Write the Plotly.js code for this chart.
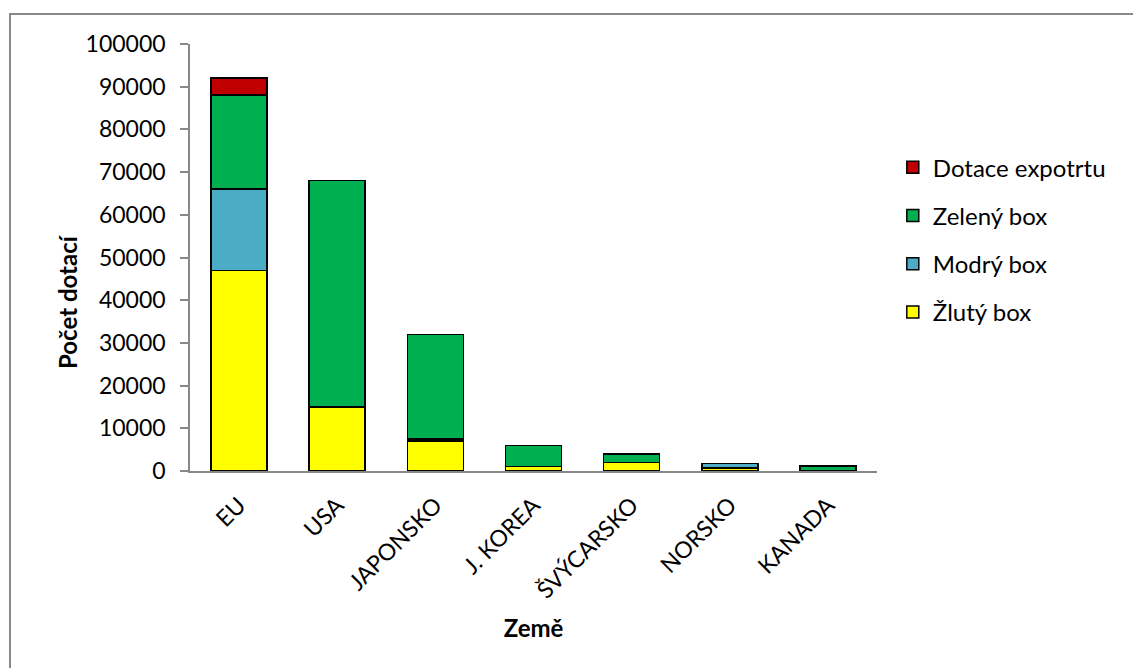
<!DOCTYPE html>
<html>
<head>
<meta charset="utf-8">
<script src="https://cdn.plot.ly/plotly-3.0.1.min.js"></script>
<style>html,body{margin:0;padding:0;background:#fff;}</style>
</head>
<body>
<div id="chart" style="width:1133px;height:668px;"></div>
<script>
var categories = ["EU", "USA", "JAPONSKO", "J. KOREA", "ŠVÝCARSKO", "NORSKO", "KANADA"];
var zlutyBox   = [47000, 15000, 7000, 1000, 2000, 700, 0];
var modryBox   = [19000, 0, 500, 0, 0, 1000, 0];
var zelenyBox  = [22000, 53000, 24500, 5000, 2000, 0, 1200];
var dotaceExp  = [4000, 0, 0, 0, 0, 0, 0];
var yTicks = [0, 10000, 20000, 30000, 40000, 50000, 60000, 70000, 80000, 90000, 100000];

var FONT = "Lato, 'Open Sans', sans-serif";
function tr(name, vals, color, grp, rank) {
  return {type: "bar", name: name, x: categories, y: vals, legendgroup: grp, legendrank: rank,
    marker: {color: color, line: {color: "#000", width: 1.5}}, hoverinfo: "x+y+name"};
}
var data = [
  tr("Žlutý box", zlutyBox, "#FFFF00", "a", 4),
  tr("Modrý box", modryBox, "#4BACC6", "b", 3),
  tr("Zelený box", zelenyBox, "#00B050", "c", 2),
  tr("Dotace expotrtu", dotaceExp, "#C00000", "d", 1)
];
var layout = {
  width: 1133, height: 668,
  margin: {l: 190, r: 256, t: 44, b: 197},
  paper_bgcolor: "#fff", plot_bgcolor: "#fff",
  barmode: "stack", bargap: 0.43,
  font: {family: FONT, size: 22, color: "#000"},
  xaxis: {
    tickangle: -45, showgrid: false, showline: true, linecolor: "#888", linewidth: 1.5,
    ticks: "", tickfont: {size: 23}, automargin: false, ticklabelstandoff: 10,
    title: {text: "<b>Země</b>", font: {size: 24}, standoff: 18}
  },
  yaxis: {
    range: [0, 100000], tickvals: yTicks, tickformat: "d",
    showgrid: false, zeroline: false, showline: true, linecolor: "#888", linewidth: 1.5,
    ticks: "outside", ticklen: 8, tickcolor: "#888", tickwidth: 1.5,
    ticklabelstandoff: 10, tickfont: {size: 23}, automargin: false
  },
  annotations: [{text: "<b>Počet dotací</b>", xref: "paper", yref: "paper",
    x: (67 - 190) / 687, y: (471 - 302) / 427, textangle: -90, showarrow: false,
    xanchor: "center", yanchor: "middle", font: {size: 24}}],
  legend: {x: 1.023, y: 0.763, xanchor: "left", yanchor: "top",
    traceorder: "grouped", tracegroupgap: 14,
    font: {size: 24}, bgcolor: "rgba(0,0,0,0)"},
  shapes: [{type: "rect", xref: "paper", yref: "paper",
    x0: -0.262, y0: -0.7, x1: 1.6, y1: 1.0703,
    line: {color: "#888", width: 2}, fillcolor: "rgba(0,0,0,0)"}]
};
Plotly.newPlot("chart", data, layout, {displayModeBar: false});
</script>
</body>
</html>
